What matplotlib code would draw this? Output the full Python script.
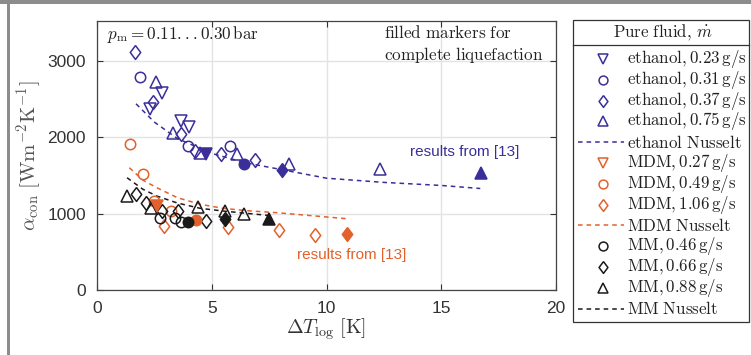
import matplotlib
matplotlib.use("Agg")
import matplotlib.pyplot as plt
from matplotlib.lines import Line2D
from matplotlib.patches import Rectangle

plt.rcParams['mathtext.fontset'] = 'cm'
plt.rcParams['font.family'] = ['Liberation Sans', 'DejaVu Sans']

BLUE = '#3a2f98'
ORANGE = '#e2612c'
BLACK = '#1a1a1a'

# ---- ethanol ----
eth023_x = [2.83, 2.32, 3.66, 4.03]
eth023_y = [2585, 2367, 2214, 2135]
eth023_fx = [4.76]
eth023_fy = [1778]
eth031_x = [1.89, 3.95, 5.78]
eth031_y = [2794, 1886, 1886]
eth031_fx = [6.42]
eth031_fy = [1655]
eth037_x = [1.67, 2.43, 3.66, 4.28, 5.40, 6.89]
eth037_y = [3122, 2463, 2048, 1825, 1778, 1705]
eth037_fx = [8.08]
eth037_fy = [1568]
eth075_x = [2.58, 3.31, 4.50, 6.10, 8.37, 12.31]
eth075_y = [2729, 2061, 1800, 1778, 1655, 1581]
eth075_fx = [16.72]
eth075_fy = [1537]
eth_nu_x = [1.7, 2.5, 3.5, 5.0, 6.5, 8.0, 10.0, 12.5, 15.0, 16.7]
eth_nu_y = [2440, 2200, 1985, 1790, 1665, 1580, 1465, 1410, 1370, 1330]

# ---- MDM ----
mdm027_x = []
mdm027_y = []
mdm027_fx = [2.61]
mdm027_fy = [1100]
mdm049_x = [1.42, 2.02, 2.47, 3.24]
mdm049_y = [1909, 1516, 1166, 1040]
mdm049_fx = [4.32]
mdm049_fy = [917]
mdm106_x = [2.90, 5.69, 7.94, 9.48]
mdm106_y = [838, 825, 782, 716]
mdm106_fx = [10.89]
mdm106_fy = [738]
mdm_nu_x = [1.41, 2.0, 2.61, 3.5, 4.5, 5.5, 6.5, 7.84, 9.5, 10.89]
mdm_nu_y = [1602, 1440, 1340, 1210, 1123, 1070, 1040, 1013, 970, 934]

# ---- MM ----
mm046_x = [2.76, 3.41, 3.65]
mm046_y = [947, 947, 891]
mm046_fx = [3.96]
mm046_fy = [895]
mm066_x = [1.70, 2.15, 2.85, 3.51, 4.75]
mm066_y = [1254, 1144, 1035, 1035, 904]
mm066_fx = [5.56]
mm066_fy = [926]
mm088_x = [1.31, 2.36, 4.40, 5.56, 6.39]
mm088_y = [1231, 1078, 1087, 1040, 992]
mm088_fx = [7.50]
mm088_fy = [934]
mm_nu_x = [1.31, 2.0, 2.61, 3.5, 4.5, 5.5, 6.24, 7.54]
mm_nu_y = [1471, 1320, 1231, 1140, 1070, 1035, 1013, 975]

DIAM = [(0, 1), (0.75, 0), (0, -1), (-0.75, 0), (0, 1)]
MSIZE = {'v': 9, 'o': 7.5, 'd': 10, '^': 9}

def mk(m):
    return DIAM if m == 'd' else m

W, H = 751, 355
fig = plt.figure(figsize=(W / 100, H / 100), dpi=100)
ax = fig.add_axes([97/W, 1-290/H, (556-97)/W, (290-21)/H])

def fx_(px):
    return px / W

def fy_(py):
    return 1 - py / H

series = [
    (eth023_x, eth023_y, eth023_fx, eth023_fy, 'v', BLUE, r'$\mathrm{ethanol},0.23\,\mathrm{g/s}$'),
    (eth031_x, eth031_y, eth031_fx, eth031_fy, 'o', BLUE, r'$\mathrm{ethanol},0.31\,\mathrm{g/s}$'),
    (eth037_x, eth037_y, eth037_fx, eth037_fy, 'd', BLUE, r'$\mathrm{ethanol},0.37\,\mathrm{g/s}$'),
    (eth075_x, eth075_y, eth075_fx, eth075_fy, '^', BLUE, r'$\mathrm{ethanol},0.75\,\mathrm{g/s}$'),
    ('nu', eth_nu_x, eth_nu_y, BLUE, r'$\mathrm{ethanol\ Nusselt}$'),
    (mdm027_x, mdm027_y, mdm027_fx, mdm027_fy, 'v', ORANGE, r'$\mathrm{MDM},0.27\,\mathrm{g/s}$'),
    (mdm049_x, mdm049_y, mdm049_fx, mdm049_fy, 'o', ORANGE, r'$\mathrm{MDM},0.49\,\mathrm{g/s}$'),
    (mdm106_x, mdm106_y, mdm106_fx, mdm106_fy, 'd', ORANGE, r'$\mathrm{MDM},1.06\,\mathrm{g/s}$'),
    ('nu', mdm_nu_x, mdm_nu_y, ORANGE, r'$\mathrm{MDM\ Nusselt}$'),
    (mm046_x, mm046_y, mm046_fx, mm046_fy, 'o', BLACK, r'$\mathrm{MM},0.46\,\mathrm{g/s}$'),
    (mm066_x, mm066_y, mm066_fx, mm066_fy, 'd', BLACK, r'$\mathrm{MM},0.66\,\mathrm{g/s}$'),
    (mm088_x, mm088_y, mm088_fx, mm088_fy, '^', BLACK, r'$\mathrm{MM},0.88\,\mathrm{g/s}$'),
    ('nu', mm_nu_x, mm_nu_y, BLACK, r'$\mathrm{MM\ Nusselt}$'),
]

# legend frame (drawn manually to match the layout)
fig.add_artist(Rectangle((fx_(573), fy_(322)), (749-573)/W, (322-20)/H, transform=fig.transFigure,
                         facecolor='white', edgecolor='#333333', lw=0.9, zorder=5))
fig.add_artist(Line2D([fx_(573), fx_(749)], [fy_(44.5), fy_(44.5)], transform=fig.transFigure,
                      color='#333333', lw=0.9, zorder=6))
fig.text(fx_(663), fy_(32), r'$\mathrm{Pure\ fluid},\,\dot{m}$', fontsize=12.2,
         ha='center', va='center', color='#222222', zorder=6)

LEG_FS = 12.2
for i, s in enumerate(series):
    ry = 59 + 20.8 * i
    if s[0] == 'nu':
        _, x, y, c, lab = s
        ax.plot(x, y, linestyle=(0, (3, 2.6)), color=c, lw=1.1, zorder=2)
        fig.add_artist(Line2D([fx_(578), fx_(624)], [fy_(ry), fy_(ry)], transform=fig.transFigure,
                              linestyle=(0, (3, 2.6)), color=c, lw=1.1, zorder=6))
    else:
        x, y, fx, fy, m, c, lab = s
        ax.plot(x, y, linestyle='none', marker=mk(m), ms=MSIZE[m], mfc='none',
                mec=c, mew=1.1, zorder=3)
        ax.plot(fx, fy, linestyle='none', marker=mk(m), ms=MSIZE[m], mfc=c,
                mec=c, mew=1.1, zorder=4)
        fig.add_artist(Line2D([fx_(603)], [fy_(ry)], transform=fig.transFigure, linestyle='none',
                              marker=mk(m), ms=MSIZE[m] * 0.85, mfc='none', mec=c, mew=1.1, zorder=6))
    fig.text(fx_(627), fy_(ry), lab, fontsize=LEG_FS, ha='left', va='center', color='#222222', zorder=6)

ax.set_xlim(0, 20)
ax.set_ylim(0, 3525)
ax.set_xticks([0, 5, 10, 15, 20])
ax.set_yticks([0, 1000, 2000, 3000])
ax.grid(True, color='#e3e3e3', lw=1.0)
ax.set_axisbelow(True)
ax.tick_params(direction='in', top=True, right=True, length=4, width=0.8,
               labelsize=12.5, colors='#333333', labelcolor='#333333', pad=8)
for sp in ax.spines.values():
    sp.set_color('#444444')
    sp.set_linewidth(0.9)

ax.set_xlabel(r'$\Delta T_\mathrm{log}\ [\mathrm{K}]$', fontsize=14.5, color='#333333', labelpad=0)
ax.set_ylabel(r'$\alpha_\mathrm{con}\ [\mathrm{Wm^{-2}K^{-1}}]$', fontsize=15, color='#555555', labelpad=2)

ax.text(0.022, 0.948, r'$p_\mathrm{m}=0.11{.}{.}{.}0.30\,\mathrm{bar}$', transform=ax.transAxes,
        fontsize=12.3, va='center', ha='left', color='#222222')
ax.text(0.625, 0.99, r'$\mathrm{filled\ markers\ for}$' + '\n' + r'$\mathrm{complete\ liquefaction}$',
        transform=ax.transAxes, fontsize=12.3, va='top', ha='left', color='#222222', linespacing=1.3)

ax.text(16.0, 1808, 'results from [13]', color=BLUE, fontsize=11, ha='center', va='center')
ax.text(11.08, 458, 'results from [13]', color=ORANGE, fontsize=11, ha='center', va='center')

# screenshot frame
fig.add_artist(Rectangle((0, 1-4/H), 1, 4/H, transform=fig.transFigure,
                         facecolor='#8c8c8c', edgecolor='none', zorder=7))
fig.add_artist(Rectangle((7/W, 0), 3/W, 1-4/H, transform=fig.transFigure,
                         facecolor='#8c8c8c', edgecolor='none', zorder=7))

fig.savefig('out.png', dpi=100)
